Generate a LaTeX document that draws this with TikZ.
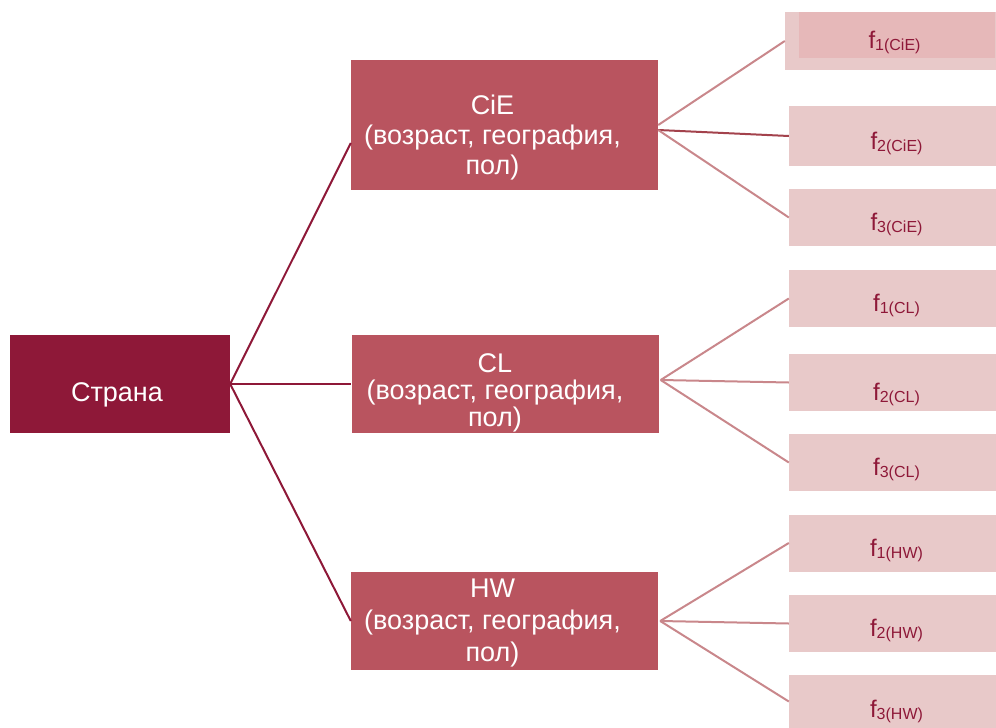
\documentclass[tikz,border=0pt]{standalone}
\usepackage{fontspec}
\setmainfont{Liberation Sans}
\usetikzlibrary{positioning}

\definecolor{stranacol}{HTML}{8E1838}
\definecolor{segmcol}{HTML}{B9545F}
\definecolor{factcol}{HTML}{E8C9C9}
\definecolor{factdark}{HTML}{E6B8B9}
\definecolor{linklight}{HTML}{C9878B}
\definecolor{linkmid}{HTML}{A3424C}

\newcommand{\flab}[2]{f\raisebox{-2pt}{\fontsize{16}{16}\selectfont #1(#2)}}

\tikzset{
  country/.style={fill=stranacol, minimum width=220pt, minimum height=98pt, inner sep=0pt},
  countrytext/.style={text=white, font=\fontsize{27}{27}\selectfont},
  segment/.style={fill=segmcol, minimum width=307pt, inner sep=0pt},
  segtext/.style={text=white, align=center, font=\fontsize{27}{30}\selectfont},
  factor/.style={fill=factcol, minimum width=207pt, minimum height=57pt, inner sep=0pt},
  factext/.style={text=stranacol, font=\fontsize{24}{24}\selectfont, xshift=4pt, yshift=-7pt},
  mainlink/.style={draw=stranacol, line width=2pt},
  sublink/.style={draw=linklight, line width=2pt},
}

\begin{document}
\begin{tikzpicture}[x=1pt, y=-1pt]
  \useasboundingbox (0,0) rectangle (996,728);

  % Country
  \node[country, label={[countrytext, xshift=-3pt, yshift=-11pt]center:Страна}] (str) at (120,384) {};

  % Segments
  \node[segment, minimum height=130pt] (cie) at (504.5,125) {};
  \node[segment, minimum height=98pt] (cl) at (505,384) {};
  \node[segment, minimum height=98pt] (hw) at (504.5,621) {};
  \node[segtext] at ([xshift=-12pt, yshift=-13pt]cie.center) {CiE\\(возраст, география,\\пол)};
  \node[segtext, font=\fontsize{27}{27}\selectfont] at ([xshift=-10pt, yshift=-9pt]cl.center) {CL\\(возраст, география,\\пол)};
  \node[segtext, font=\fontsize{27}{32}\selectfont] at ([xshift=-12pt, yshift=-2pt]hw.center) {HW\\(возраст, география,\\пол)};

  % Factors of CiE
  \node[factor, minimum width=211pt, minimum height=58pt] (f1cie) at (890.5,41) {};
  \fill[factdark] (799,12) rectangle (995,58);
  \node[factext, yshift=6pt] at (f1cie.center) {\flab{1}{CiE}};
  \node[factor, minimum height=60pt, label={[factext]center:\flab{2}{CiE}}] (f2cie) at (892.5,136) {};
  \node[factor, label={[factext]center:\flab{3}{CiE}}] (f3cie) at (892.5,217.5) {};

  % Factors of CL
  \node[factor, label={[factext]center:\flab{1}{CL}}] (f1cl) at (892.5,298.5) {};
  \node[factor, label={[factext, yshift=-5pt]center:\flab{2}{CL}}] (f2cl) at (892.5,382.5) {};
  \node[factor, label={[factext]center:\flab{3}{CL}}] (f3cl) at (892.5,462.5) {};

  % Factors of HW
  \node[factor, label={[factext]center:\flab{1}{HW}}] (f1hw) at (892.5,543) {};
  \node[factor, label={[factext]center:\flab{2}{HW}}] (f2hw) at (892.5,623.5) {};
  \node[factor, minimum height=53pt, label={[factext, yshift=-3pt]center:\flab{3}{HW}}] (f3hw) at (892.5,701.5) {};

  % Links from the country
  \draw[mainlink] (str.east) -- ([yshift=-18pt]cie.west);
  \draw[mainlink] (str.east) -- (cl.west);
  \draw[mainlink] (str.east) -- (hw.west);

  % Links to the factors
  \draw[sublink] (cie.east) -- (f1cie.west);
  \draw[draw=linkmid, line width=2pt] ([yshift=-5pt]cie.east) -- (f2cie.west);
  \draw[sublink] ([yshift=-5pt]cie.east) -- (f3cie.west);
  \draw[sublink] ([xshift=2pt, yshift=4pt]cl.east) -- (f1cl.west);
  \draw[sublink] ([xshift=2pt, yshift=4pt]cl.east) -- (f2cl.west);
  \draw[sublink] ([xshift=2pt, yshift=4pt]cl.east) -- (f3cl.west);
  \draw[sublink] ([xshift=2pt]hw.east) -- (f1hw.west);
  \draw[sublink] ([xshift=2pt]hw.east) -- (f2hw.west);
  \draw[sublink] ([xshift=2pt]hw.east) -- (f3hw.west);
\end{tikzpicture}
\end{document}
